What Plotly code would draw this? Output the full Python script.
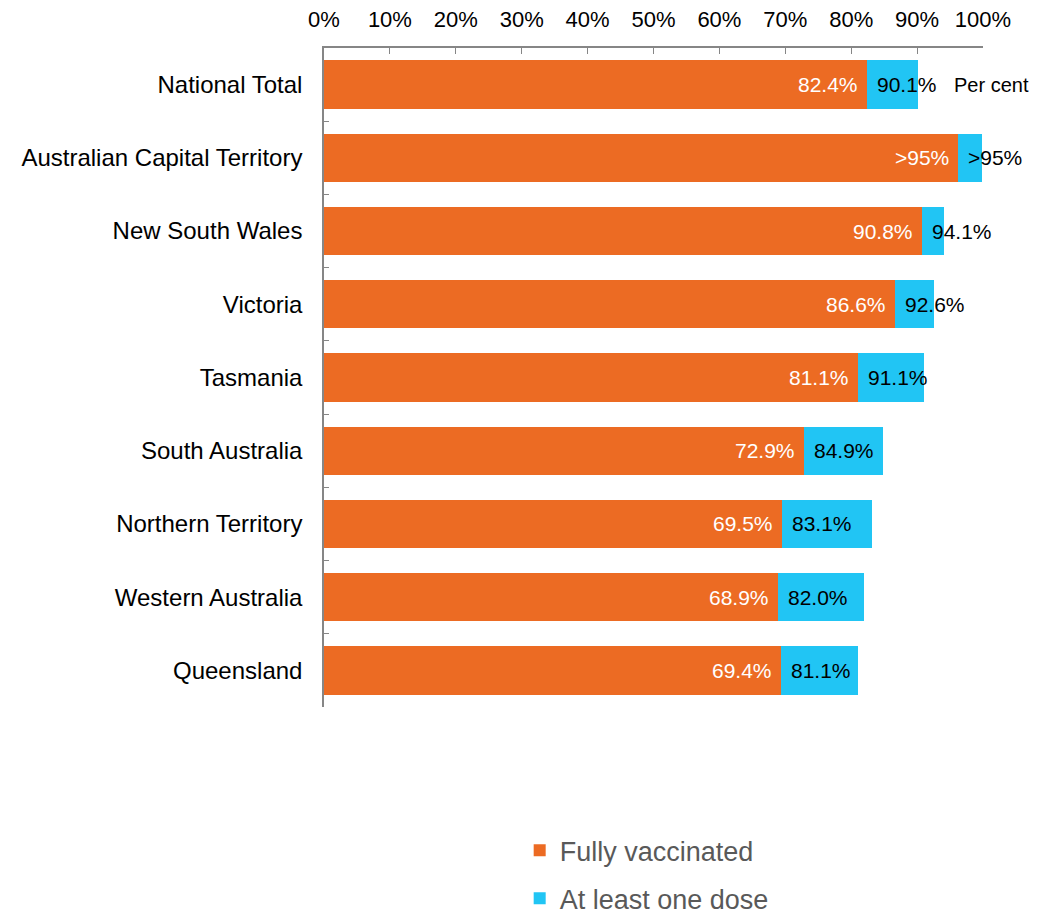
import plotly.graph_objects as go

regions = ["National Total", "Australian Capital Territory", "New South Wales", "Victoria",
           "Tasmania", "South Australia", "Northern Territory", "Western Australia", "Queensland"]
fully = [82.4, 96.2, 90.8, 86.6, 81.1, 72.9, 69.5, 68.9, 69.4]
one_dose = [90.1, 99.9, 94.1, 92.6, 91.1, 84.9, 83.1, 82.0, 81.1]
fully_labels = ["82.4%", ">95%", "90.8%", "86.6%", "81.1%", "72.9%", "69.5%", "68.9%", "69.4%"]
dose_labels = ["90.1%", ">95%", "94.1%", "92.6%", "91.1%", "84.9%", "83.1%", "82.0%", "81.1%"]
x_ticks = [0, 10, 20, 30, 40, 50, 60, 70, 80, 90, 100]

ORANGE = "#EC6B23"
BLUE = "#21C5F4"
FONT = "Liberation Sans, Arial, sans-serif"

extra = [d - f for d, f in zip(one_dose, fully)]

fig = go.Figure()
fig.add_trace(go.Bar(y=regions, x=fully, orientation="h", name="Fully vaccinated",
                     legendgroup="a",
                     marker=dict(color=ORANGE, line=dict(width=0))))
fig.add_trace(go.Bar(y=regions, x=extra, orientation="h", name="At least one dose",
                     legendgroup="b",
                     marker=dict(color=BLUE, line=dict(width=0))))

annotations = []
for r, f, fl, dl in zip(regions, fully, fully_labels, dose_labels):
    annotations.append(dict(x=f, y=r, xref="x", yref="y", text=fl, showarrow=False,
                            xanchor="right", xshift=-7,
                            font=dict(family=FONT, size=21, color="white")))
    annotations.append(dict(x=f, y=r, xref="x", yref="y", text=dl, showarrow=False,
                            xanchor="left", xshift=8,
                            font=dict(family=FONT, size=21, color="black")))
annotations.append(dict(x=one_dose[0], y=regions[0], xref="x", yref="y", text="Per cent",
                        showarrow=False, xanchor="left", xshift=34,
                        font=dict(family=FONT, size=20, color="black")))

fig.update_layout(
    width=1040, height=907,
    margin=dict(l=316, r=65, t=40, b=208, autoexpand=False),
    paper_bgcolor="white", plot_bgcolor="white",
    barmode="stack", bargap=0.34,
    font=dict(family=FONT, size=20, color="black"),
    annotations=annotations,
    legend=dict(orientation="v", xref="container", yref="container",
                x=0.492, xanchor="left", y=0.098, yanchor="top",
                traceorder="grouped",
                font=dict(family=FONT, size=27, color="#595959"),
                itemwidth=30, tracegroupgap=10),
    showlegend=True,
)
fig.update_xaxes(side="top", range=[0, 100], tickvals=x_ticks,
                 ticktext=[f"{v}%" for v in x_ticks],
                 showgrid=False, zeroline=False, automargin=False,
                 showline=True, linecolor="#868686", linewidth=1.5,
                 ticks="inside", ticklen=6, tickcolor="#868686",
                 ticklabelstandoff=10,
                 tickfont=dict(family=FONT, size=22, color="black"))
fig.update_yaxes(categoryorder="array", categoryarray=regions, autorange="reversed",
                 showgrid=False, zeroline=False, automargin=False,
                 showline=True, linecolor="#868686", linewidth=1.5,
                 ticks="inside", ticklen=5, tickcolor="#868686", tickson="boundaries",
                 ticklabelstandoff=15,
                 tickfont=dict(family=FONT, size=24, color="black"))

fig.write_html("out.html")
